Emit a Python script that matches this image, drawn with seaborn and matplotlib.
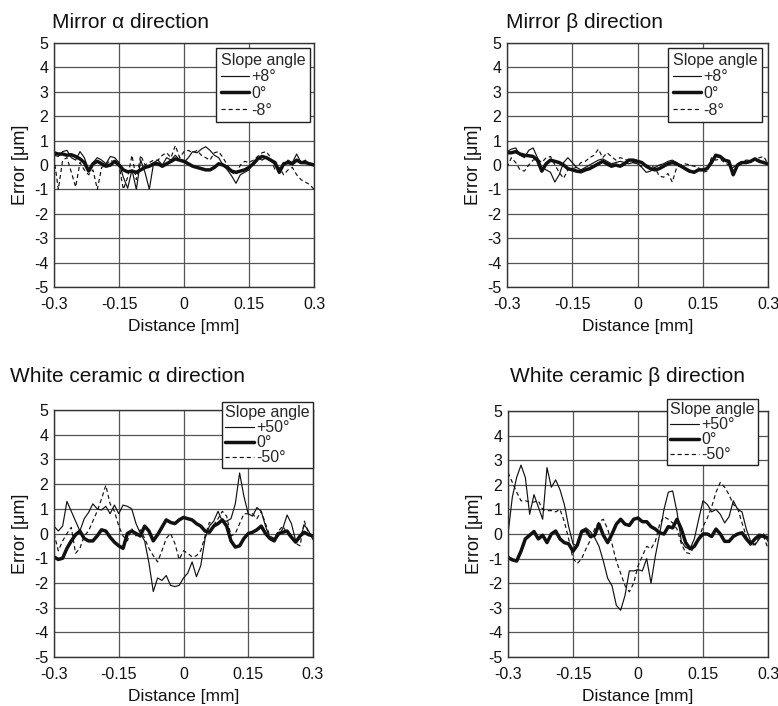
import numpy as np
import seaborn as sns
import matplotlib.pyplot as plt

# distance grid [mm], one reading every 0.01 mm
distance = np.round(np.arange(-0.30, 0.3001, 0.01), 2)

x_ticks = [-0.3, -0.15, 0, 0.15, 0.3]
x_tick_labels = ['-0.3', '-0.15', '0', '0.15', '0.3']
y_ticks = [-5, -4, -3, -2, -1, 0, 1, 2, 3, 4, 5]

# Mirror, alpha direction
mirror_a_plus = [0.4, 0.35, 0.55, 0.6, 0.3, 0.2, 0.55, 0.3, -0.2, 0.1,
                 0.3, 0.2, 0.05, 0.35, 0.3, 0.1, -0.5, -0.95, -0.2, -1.0,
                 0.2, -0.3, -1.0, 0.1, 0.2, 0.0, 0.3, 0.2, 0.4, 0.2,
                 0.1, 0.3, 0.55, 0.5, 0.65, 0.75, 0.6, 0.4, 0.3, 0.0,
                 -0.2, -0.45, -0.75, -0.4, -0.3, -0.2, 0.1, 0.3, 0.2, 0.3,
                 0.2, 0.0, -0.2, 0.0, 0.2, 0.1, 0.45, 0.1, 0.2, 0.0, 0.05]
mirror_a_zero = [0.5, 0.45, 0.45, 0.4, 0.42, 0.35, 0.25, 0.1, -0.25, 0.05,
                 0.15, 0.05, -0.05, 0.0, 0.15, 0.0, -0.2, -0.28, -0.25, -0.3,
                 -0.2, -0.1, -0.05, 0.05, 0.05, -0.05, 0.05, 0.15, 0.25, 0.2,
                 0.15, 0.05, -0.05, -0.1, -0.15, -0.2, -0.2, -0.1, 0.05, 0.0,
                 -0.1, -0.25, -0.3, -0.25, -0.2, -0.1, 0.05, 0.25, 0.35, 0.3,
                 0.2, 0.1, -0.3, 0.05, 0.1, 0.05, 0.2, 0.1, 0.1, 0.05, 0.0]
mirror_a_minus = [0.3, -1.0, 0.2, 0.3, -0.3, -0.9, 0.1, -0.2, -0.4, -0.2,
                  -1.0, -0.1, 0.0, 0.2, 0.1, 0.0, -1.0, -0.5, 0.4, -0.6,
                  0.4, 0.0, 0.1, 0.2, 0.2, 0.4, 0.5, 0.3, 0.8, 0.3,
                  0.55, 0.6, 0.5, 0.6, 0.4, 0.3, 0.2, 0.5, 0.55, 0.3,
                  0.0, -0.3, -0.4, 0.0, 0.15, 0.1, 0.2, 0.35, 0.5, 0.55,
                  0.3, -0.2, -0.1, -0.4, -0.2, -0.1, -0.4, -0.6, -0.7, -0.8, -1.0]

# Mirror, beta direction
mirror_b_plus = [0.55, 0.65, 0.7, 0.4, 0.3, 0.6, 0.7, 0.3, -0.1, -0.2,
                 -0.3, -0.7, -0.4, 0.1, 0.3, 0.1, -0.1, -0.2, -0.1, 0.0,
                 0.1, 0.2, 0.25, 0.15, 0.05, 0.1, 0.15, 0.1, 0.05, 0.1,
                 0.05, -0.1, -0.3, -0.25, -0.1, 0.0, 0.05, 0.15, 0.2, 0.1,
                 -0.05, -0.2, -0.3, -0.25, -0.2, -0.2, -0.1, 0.2, 0.35, 0.3,
                 0.2, 0.1, -0.3, -0.05, 0.1, 0.15, 0.1, 0.25, 0.2, 0.1, 0.05]
mirror_b_zero = [0.5, 0.5, 0.55, 0.45, 0.4, 0.38, 0.35, 0.2, -0.25, 0.05,
                 0.2, 0.15, 0.1, 0.0, -0.15, -0.2, -0.25, -0.28, -0.2, -0.15,
                 -0.05, 0.05, 0.15, 0.05, -0.05, 0.0, -0.05, 0.05, 0.2, 0.2,
                 0.15, 0.1, -0.05, -0.15, -0.2, -0.15, -0.05, 0.05, 0.1, 0.05,
                 -0.05, -0.15, -0.25, -0.3, -0.2, -0.2, -0.15, 0.1, 0.4, 0.35,
                 0.2, 0.15, -0.4, 0.0, 0.1, 0.1, 0.15, 0.25, 0.15, 0.1, 0.05]
mirror_b_minus = [-0.1, 0.3, 0.1, -0.2, -0.25, 0.0, 0.2, 0.25, 0.1, 0.3,
                  0.35, 0.0, -0.3, -0.55, -0.2, -0.15, -0.1, 0.1, 0.15, 0.3,
                  0.4, 0.65, 0.3, 0.5, 0.35, 0.2, 0.3, 0.25, 0.15, 0.1,
                  0.05, -0.05, 0.0, -0.05, -0.1, -0.45, -0.5, -0.35, -0.7, -0.1,
                  0.0, 0.05, 0.0, -0.05, -0.1, -0.3, -0.25, 0.3, 0.2, 0.25,
                  0.1, 0.0, -0.1, 0.05, 0.15, 0.2, 0.2, 0.25, 0.3, 0.35, 0.05]

# White ceramic, alpha direction
ceramic_a_plus = [0.3, 0.1, 0.3, 1.3, 0.9, 0.5, 0.1, 0.6, 0.85, 1.2,
                  1.0, 0.95, 1.1, 0.8, 1.15, 0.8, 1.15, 1.1, 1.0, 0.4,
                  0.0, -0.3, -1.2, -2.35, -1.8, -1.9, -1.7, -2.1, -2.15, -2.1,
                  -1.8, -1.6, -1.15, -1.75, -1.3, -0.2, 0.3, 0.5, 0.9, 0.5,
                  0.5, 0.6, 1.2, 2.45, 1.5, 0.8, 0.7, 1.05, 0.9, 0.3,
                  -0.2, -0.2, -0.1, 0.2, 0.75, 0.4, -0.3, -0.2, 0.35, 0.1, -0.25]
ceramic_a_zero = [-0.95, -1.05, -1.0, -0.6, -0.3, -0.05, 0.1, -0.2, -0.3, -0.3,
                  -0.1, 0.15, 0.1, -0.15, -0.35, -0.5, -0.6, 0.0, 0.1, 0.0,
                  -0.1, 0.3, 0.1, -0.3, -0.05, 0.25, 0.55, 0.45, 0.4, 0.55,
                  0.65, 0.6, 0.55, 0.4, 0.3, 0.1, 0.05, 0.3, 0.4, 0.55,
                  0.3, -0.3, -0.55, -0.5, -0.2, 0.0, 0.05, 0.15, 0.3, 0.0,
                  -0.2, -0.3, 0.0, 0.05, 0.1, -0.15, -0.35, -0.1, 0.05, -0.05, -0.1]
ceramic_a_minus = [0.0, -0.7, -0.3, 0.0, 0.25, -0.8, -0.6, -0.1, 0.1, 0.5,
                   0.9, 1.4, 1.95, 1.2, 0.9, 0.3, -0.1, -0.3, 0.2, -0.1,
                   0.15, -0.2, -0.6, -0.9, -1.15, -0.7, -0.2, 0.0, -0.4, -1.05,
                   -0.7, -0.8, -0.95, -0.9, -0.7, -0.1, 0.45, 0.35, 0.6, 0.9,
                   0.7, -0.1, 0.0, 0.4, 0.8, 0.8, 0.8, 0.6, 0.9, 0.4,
                   -0.1, -0.2, 0.1, 0.3, 0.0, -0.2, -0.4, -0.5, 0.5, 0.0, -0.1]

# White ceramic, beta direction
ceramic_b_plus = [0.0, 1.5, 2.3, 2.8, 2.3, 0.8, 1.6, 1.1, 0.6, 2.7,
                  1.9, 2.2, 1.8, 1.2, 0.3, -0.4, -0.5, 0.15, 0.25, 0.1,
                  -0.15, -0.5, -1.1, -1.8, -2.1, -2.9, -3.1, -2.5, -1.5, -1.5,
                  -1.45, -1.5, -1.0, -2.0, -0.9, 0.0, 1.0, 1.7, 1.75, 0.9,
                  -0.3, -0.55, -0.6, -0.2, 0.6, 1.35, 1.2, 0.9, 1.0, 0.8,
                  0.45, 0.7, 1.35, 1.0, 0.9, 0.2, -0.3, -0.45, -0.2, 0.0, -0.3]
ceramic_b_zero = [-0.95, -1.05, -1.1, -0.7, -0.2, -0.05, 0.1, -0.2, -0.05, -0.35,
                  0.0, 0.12, -0.2, -0.35, -0.4, -0.7, -0.45, 0.1, 0.15, -0.1,
                  -0.05, 0.4, -0.05, -0.35, 0.0, 0.4, 0.6, 0.4, 0.35, 0.6,
                  0.65, 0.5, 0.5, 0.3, 0.2, 0.05, 0.0, 0.3, 0.25, 0.6,
                  0.2, -0.35, -0.6, -0.5, -0.2, 0.0, 0.0, -0.1, 0.2, 0.0,
                  -0.3, -0.3, -0.1, 0.0, 0.05, -0.2, -0.4, -0.2, -0.05, -0.1, -0.15]
ceramic_b_minus = [2.5, 2.1, 1.7, 1.35, 1.35, 1.3, 1.3, 1.35, 1.0, 0.95,
                   0.95, 0.9, 1.0, 0.5, -0.2, -1.0, -1.2, -1.0, -0.6, -0.25,
                   0.2, 0.5, 0.6, 0.2, -0.4, -1.1, -1.6, -2.1, -2.35, -2.0,
                   -1.3, -0.9, -0.5, -0.6, -0.3, 0.4, 0.7, 0.6, 0.45, 0.2,
                   -0.4, -0.75, -0.8, -0.5, -0.2, 0.3, 0.65, 1.1, 1.7, 2.1,
                   1.9, 1.6, 1.2, 1.05, 0.45, -0.1, -0.5, -0.4, -0.15, -0.1, -0.6]

titles = ['Mirror α direction', 'Mirror β direction',
          'White ceramic α direction', 'White ceramic β direction']
mirror_labels = ['+8°', '0°', '-8°']
ceramic_labels = ['+50°', '0°', '-50°']

panels = [
    (titles[0], mirror_labels, [mirror_a_plus, mirror_a_zero, mirror_a_minus]),
    (titles[1], mirror_labels, [mirror_b_plus, mirror_b_zero, mirror_b_minus]),
    (titles[2], ceramic_labels, [ceramic_a_plus, ceramic_a_zero, ceramic_a_minus]),
    (titles[3], ceramic_labels, [ceramic_b_plus, ceramic_b_zero, ceramic_b_minus]),
]

sns.set_theme(style='white')
plt.rcParams['font.family'] = ['Liberation Sans', 'DejaVu Sans']
plt.rcParams['axes.unicode_minus'] = False

W, H = 778, 706
fig = plt.figure(figsize=(W / 100, H / 100), dpi=100)

# axes boxes in pixels: left, top, right, bottom
boxes = [(54, 43, 314, 287), (507, 43, 768, 287),
         (54, 410, 313, 657), (508, 411, 768, 657)]
title_pos = [(52, 23), (506, 22), (10, 376), (510, 376)]
legend_pos = [(310, 48), (762, 48), (313, 402), (758, 399)]
legend_gaps = [(0.1, 0.3), (0.1, 0.3), (0.0, 0.2), (0.0, 0.2)]

line_styles = [dict(lw=0.85), dict(lw=2.5), dict(lw=0.85, dashes=(3.5, 2.5))]

for (title, labels, series), box, tpos, lpos, gap in zip(
        panels, boxes, title_pos, legend_pos, legend_gaps):
    l, t, r, b = box
    ax = fig.add_axes([l / W, 1 - b / H, (r - l) / W, (b - t) / H])
    ax.set_axisbelow(True)
    ax.grid(True, color='#555555', lw=0.9)
    for vals, lab, st in zip(series, labels, line_styles):
        sns.lineplot(x=distance, y=vals, ax=ax, color='#111111', label=lab, **st)
    ax.set_xlim(-0.3, 0.3)
    ax.set_ylim(-5, 5)
    ax.set_xticks(x_ticks)
    ax.set_xticklabels(x_tick_labels)
    ax.set_yticks(y_ticks)
    ax.tick_params(axis='both', length=0, labelsize=11.5, colors='#111111')
    ax.tick_params(axis='x', pad=7.5)
    ax.tick_params(axis='y', pad=4)
    for sp in ax.spines.values():
        sp.set_color('#333333')
        sp.set_linewidth(1.0)
    ax.set_xlabel('Distance [mm]', fontsize=12.5, color='#111111', labelpad=5)
    ax.set_ylabel('Error [μm]', fontsize=13, color='#111111', labelpad=4)
    fig.text(tpos[0] / W, 1 - tpos[1] / H, title, fontsize=15,
             ha='left', va='center', color='#111111')
    leg = ax.legend(title='Slope angle', loc='upper right',
                    bbox_to_anchor=(lpos[0] / W, 1 - lpos[1] / H),
                    bbox_transform=fig.transFigure, borderaxespad=0,
                    fontsize=11.5, title_fontsize=11.5, frameon=True,
                    fancybox=False, framealpha=1, edgecolor='#222222',
                    handlelength=1.8, handletextpad=0.15, labelspacing=gap[0],
                    borderpad=gap[1], alignment='left')
    leg.get_frame().set_linewidth(1.0)
    leg.set_zorder(5)

fig.savefig('out.png', dpi=100)
